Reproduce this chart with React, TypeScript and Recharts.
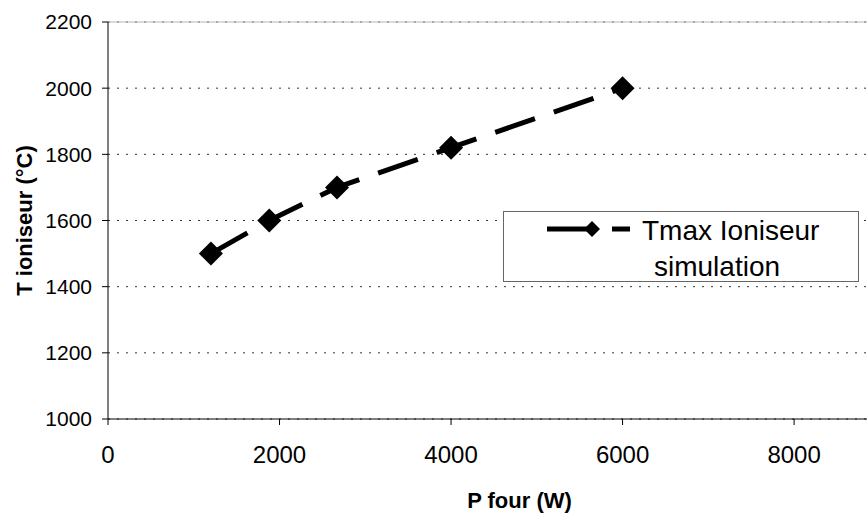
import { LineChart, Line, XAxis, YAxis, CartesianGrid, ReferenceLine } from 'recharts'

const P_FOUR = [1200, 1880, 2670, 4000, 6000]
const T_MAX = [1500, 1600, 1700, 1820, 2000]
const X_TICKS = [0, 2000, 4000, 6000, 8000]
const Y_TICKS = [1000, 1200, 1400, 1600, 1800, 2000, 2200]
const SERIES_NAME = ['Tmax Ioniseur', 'simulation']

const data = P_FOUR.map((p, i) => ({ p, t: T_MAX[i] }))

const FONT = '"Liberation Sans", Arial, sans-serif'

function Diamond(props: any) {
  const { cx, cy } = props
  if (cx == null || cy == null) return null
  const r = 12
  return <polygon points={`${cx},${cy - r} ${cx + r},${cy} ${cx},${cy + r} ${cx - r},${cy}`} fill="#000" />
}

export default function App() {
  return (
    <div style={{ position: 'absolute', left: 0, top: 0, width: 867, height: 513, fontFamily: FONT, background: '#fff' }}>
      <LineChart width={867} height={513} data={data} margin={{ top: 22, right: 0, bottom: 0, left: 0 }}>
        <CartesianGrid vertical={false} stroke="#333" strokeDasharray="2 7" />
        <ReferenceLine y={2200} stroke="#b5b5b5" />
        <XAxis
          dataKey="p"
          type="number"
          domain={[0, 8850]}
          ticks={X_TICKS}
          allowDataOverflow
          height={94}
          stroke="#000"
          tickSize={6}
          tickMargin={21}
          tick={{ fill: '#000', fontSize: 24, fontFamily: FONT }}
          label={{
            content: ({ viewBox }: any) => (
              <text x={viewBox.x + viewBox.width / 2 + 32} y={500} textAnchor="middle" dominantBaseline="central"
                fontSize={22} fontWeight="bold" fontFamily={FONT} fill="#000">P four (W)</text>
            ),
          }}
        />
        <YAxis
          type="number"
          domain={[1000, 2200]}
          ticks={Y_TICKS}
          width={108}
          stroke="#000"
          tickSize={6}
          tickMargin={10}
          tick={{ fill: '#000', fontSize: 21, fontFamily: FONT }}
          label={{
            content: ({ viewBox }: any) => {
              const x = viewBox.x + 24
              const y = viewBox.y + viewBox.height / 2
              return (
                <text x={x} y={y} transform={`rotate(-90 ${x} ${y})`} textAnchor="middle" dominantBaseline="central"
                  fontSize={22} fontWeight="bold" fontFamily={FONT} fill="#000">T ioniseur (°C)</text>
              )
            },
          }}
        />
        <Line
          dataKey="t"
          stroke="#000"
          strokeWidth={5}
          strokeDasharray="42 20"
          dot={<Diamond />}
          activeDot={false}
          isAnimationActive={false}
        />
      </LineChart>
      <div style={{ position: 'absolute', left: 503, top: 211, width: 356, height: 71, boxSizing: 'border-box', border: '1px solid #666', background: '#fff' }}>
        <svg width={354} height={69} style={{ display: 'block' }}>
          <line x1={43} y1={17} x2={126} y2={17} stroke="#000" strokeWidth={5} strokeDasharray="45 20" />
          <polygon points="88,9 96,17 88,25 80,17" fill="#000" />
          <text x={138} y={28} fontSize={28} fontFamily={FONT} fill="#000">{SERIES_NAME[0]}</text>
          <text x={150} y={64} fontSize={28} fontFamily={FONT} fill="#000">{SERIES_NAME[1]}</text>
        </svg>
      </div>
    </div>
  )
}
